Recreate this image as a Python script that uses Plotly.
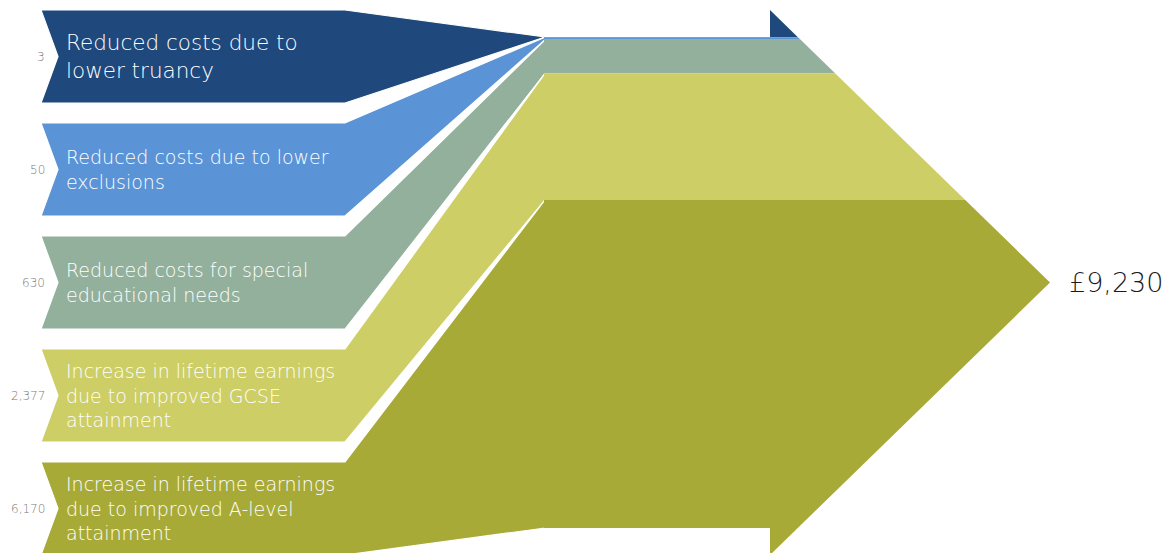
import plotly.graph_objects as go

# ---- data ----
categories = [
    "Reduced costs due to<br>lower truancy",
    "Reduced costs due to lower<br>exclusions",
    "Reduced costs for special<br>educational needs",
    "Increase in lifetime earnings<br>due to improved GCSE<br>attainment",
    "Increase in lifetime earnings<br>due to improved A-level<br>attainment",
]
values = [3, 50, 630, 2377, 6170]
value_labels = ["3", "50", "630", "2,377", "6,170"]
total_label = "£9,230"
colors = ["#1F497D", "#5B94D6", "#92B09C", "#CDCE65", "#A8AA38"]

# ---- layout geometry (pixel-like plot units) ----
W, H = 1172, 553
box_left, notch, box_right = 41, 17, 345
box_top0, box_h, box_pitch = 10, 93, 113
merge_x = 545
body_top, body_bottom = 37, 528
head_x, head_ext, head_len = 770, 27, 280

total = sum(values)
scale = (body_bottom - body_top) / total
head_top = body_top - head_ext
head_bottom = body_bottom + head_ext
center = (head_top + head_bottom) / 2
half = (head_bottom - head_top) / 2


def head_edge_x(y):
    return head_x + (half - abs(y - center)) * head_len / half


fig = go.Figure()

# stacked band positions
cum = [body_top]
for v in values:
    cum.append(cum[-1] + v * scale)

# flow polygons (boxes + converging diagonals)
for i, (v, c) in enumerate(zip(values, colors)):
    top = box_top0 + i * box_pitch
    bot = top + box_h
    mid = (top + bot) / 2
    a, b = cum[i], cum[i + 1]
    xs = [box_left, box_right, merge_x, merge_x, box_right, box_left, box_left + notch, box_left]
    ys = [top, top, a, b, bot, bot, mid, top]
    fig.add_trace(go.Scatter(x=xs, y=ys, fill="toself", fillcolor=c, mode="lines",
                             line=dict(color="white", width=1.2), hoverinfo="skip",
                             showlegend=False))

# body + arrow head polygons
n = len(values)
for i, (v, c) in enumerate(zip(values, colors)):
    a, b = cum[i], cum[i + 1]
    xs, ys = [merge_x - 1], [a]
    if i == 0:
        xs += [head_x, head_x]
        ys += [a, head_top]
    else:
        xs.append(head_edge_x(a))
        ys.append(a)
    if a < center < b or (i == n - 1 and a < center):
        xs.append(head_x + head_len)
        ys.append(center)
    if i == n - 1:
        xs += [head_x, head_x]
        ys += [head_bottom, b]
    else:
        xs.append(head_edge_x(b))
        ys.append(b)
    xs.append(merge_x - 1)
    ys.append(b)
    xs.append(xs[0])
    ys.append(ys[0])
    fig.add_trace(go.Scatter(x=xs, y=ys, fill="toself", fillcolor=c, mode="none",
                             hoverinfo="skip", showlegend=False))

FONT = "DejaVu Sans"
annotations = []
for i, (cat, lab) in enumerate(zip(categories, value_labels)):
    top = box_top0 + i * box_pitch
    mid = top + box_h / 2
    size = 21.5 if i == 0 else 19
    annotations.append(dict(x=64, y=mid, text=cat, showarrow=False, xanchor="left",
                            yanchor="middle", align="left",
                            font=dict(family=FONT, size=size, color="white", weight=300)))
    annotations.append(dict(x=47, y=mid, text=lab, showarrow=False, xanchor="right",
                            yanchor="middle", align="right",
                            font=dict(family=FONT, size=12, color="#7A7A7A", weight=300)))

annotations.append(dict(x=1067, y=center, text=total_label, showarrow=False, xanchor="left",
                        yanchor="middle", font=dict(family=FONT, size=27, color="#1A1A1A",
                                                    weight=300)))

fig.update_layout(
    width=W, height=H,
    margin=dict(l=0, r=0, t=0, b=0),
    paper_bgcolor="white", plot_bgcolor="white",
    xaxis=dict(range=[0, W], visible=False, fixedrange=True),
    yaxis=dict(range=[H, 0], visible=False, fixedrange=True),
    annotations=annotations,
)

fig.write_html("out.html", config={"displayModeBar": False},
               post_script="document.body.style.margin='0';document.body.style.overflow='hidden';")
